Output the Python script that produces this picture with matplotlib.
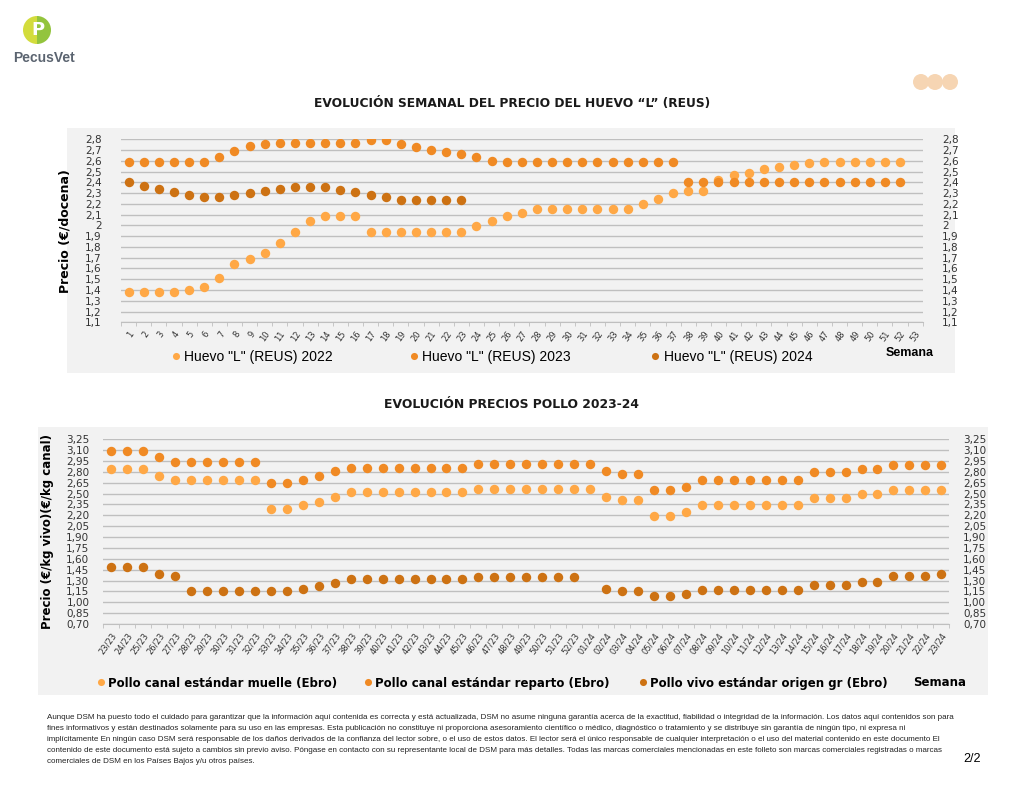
import numpy as np
import matplotlib.pyplot as plt
from matplotlib.patches import Rectangle, Circle, Wedge

# --- data: huevo "L" (REUS), weekly price €/docena ---
semanas = list(range(1, 54))
huevo_2022 = [1.38, 1.38, 1.38, 1.38, 1.40, 1.43, 1.51, 1.64, 1.69, 1.74,
              1.84, 1.94, 2.04, 2.09, 2.09, 2.09, 1.94, 1.94, 1.94, 1.94,
              1.94, 1.94, 1.94, 1.99, 2.04, 2.09, 2.12, 2.15, 2.15, 2.15,
              2.15, 2.15, 2.15, 2.15, 2.20, 2.25, 2.30, 2.32, 2.32, 2.42,
              2.47, 2.49, 2.52, 2.54, 2.56, 2.58, 2.59, 2.59, 2.59, 2.59,
              2.59, 2.59]
huevo_2023 = [2.59, 2.59, 2.59, 2.59, 2.59, 2.59, 2.64, 2.69, 2.74, 2.76,
              2.77, 2.77, 2.77, 2.77, 2.77, 2.77, 2.79, 2.79, 2.76, 2.73,
              2.70, 2.68, 2.66, 2.64, 2.60, 2.59, 2.59, 2.59, 2.59, 2.59,
              2.59, 2.59, 2.59, 2.59, 2.59, 2.59, 2.59, 2.40, 2.40, 2.40,
              2.40, 2.40, 2.40, 2.40, 2.40, 2.40, 2.40, 2.40, 2.40, 2.40,
              2.40, 2.40]
huevo_2024 = [2.40, 2.37, 2.34, 2.31, 2.28, 2.26, 2.26, 2.28, 2.30, 2.32,
              2.34, 2.36, 2.36, 2.36, 2.33, 2.31, 2.28, 2.26, 2.24, 2.24,
              2.24, 2.24, 2.24]

# --- data: pollo 2023-24 ---
semanas_pollo = [f"{w}/23" for w in range(23, 53)] + [f"{w:02d}/24" for w in range(1, 24)]
pollo_muelle = [2.84, 2.84, 2.84, 2.74, 2.69, 2.69, 2.69, 2.69, 2.69, 2.69,
                2.29, 2.29, 2.34, 2.39, 2.46, 2.52, 2.52, 2.52, 2.52, 2.52,
                2.52, 2.52, 2.52, 2.56, 2.56, 2.56, 2.56, 2.56, 2.56, 2.56,
                2.56, 2.46, 2.41, 2.41, 2.19, 2.19, 2.24, 2.34, 2.34, 2.34,
                2.34, 2.34, 2.34, 2.34, 2.44, 2.44, 2.44, 2.49, 2.49, 2.55,
                2.55, 2.55, 2.55]
pollo_reparto = [3.09, 3.09, 3.09, 3.00, 2.94, 2.94, 2.94, 2.94, 2.94, 2.94,
                 2.64, 2.64, 2.69, 2.75, 2.81, 2.86, 2.86, 2.86, 2.86, 2.86,
                 2.86, 2.86, 2.86, 2.91, 2.91, 2.91, 2.91, 2.91, 2.91, 2.91,
                 2.91, 2.81, 2.77, 2.77, 2.55, 2.55, 2.59, 2.69, 2.69, 2.69,
                 2.69, 2.69, 2.69, 2.69, 2.80, 2.80, 2.80, 2.84, 2.84, 2.90,
                 2.90, 2.90, 2.90]
pollo_vivo = [1.49, 1.49, 1.49, 1.39, 1.36, 1.16, 1.16, 1.16, 1.16, 1.16,
              1.16, 1.16, 1.18, 1.22, 1.27, 1.32, 1.32, 1.32, 1.32, 1.32,
              1.32, 1.32, 1.32, 1.35, 1.35, 1.35, 1.35, 1.35, 1.35, 1.35,
              np.nan, 1.18, 1.16, 1.16, 1.09, 1.09, 1.12, 1.17, 1.17, 1.17,
              1.17, 1.17, 1.17, 1.17, 1.24, 1.24, 1.24, 1.28, 1.28, 1.36,
              1.36, 1.36, 1.39]

C_LIGHT = "#FFA846"
C_MID = "#F08A24"
C_DARK = "#CD7213"
GRID = "#BFBFBF"
NARROW = "Liberation Sans"

W, H = 1024, 791
fig = plt.figure(figsize=(10.24, 7.91), dpi=100)


def box(l, t, r, b):
    return [l / W, 1 - b / H, (r - l) / W, (b - t) / H]


# background layer in pixel coords
bg = fig.add_axes([0, 0, 1, 1], zorder=-1)
bg.set_xlim(0, W)
bg.set_ylim(H, 0)
bg.axis("off")
bg.add_patch(Rectangle((67, 128), 888, 245, color="#F2F2F2", lw=0))
bg.add_patch(Rectangle((38, 427), 950, 268, color="#F2F2F2", lw=0))

# logo
bg.add_patch(Wedge((37, 30), 14, 90, 270, color="#D3DC3C", lw=0))
bg.add_patch(Wedge((37, 30), 14, -90, 90, color="#93C43D", lw=0))
bg.text(37.5, 30, "P", color="white", fontsize=13, fontweight="bold",
        ha="center", va="center")
bg.text(44, 58, "PecusVet", color="#5B6470", fontsize=10, fontweight="bold",
        ha="center", va="center", family=NARROW)
for cx in (921, 935, 950):
    bg.add_patch(Circle((cx, 82), 8, color="#F6D5B3", lw=0))

bg.text(512, 103, "EVOLUCIÓN SEMANAL DEL PRECIO DEL HUEVO \u201cL\u201d (REUS)",
        fontsize=8.8, fontweight="bold", ha="center", va="center", color="#1A1A1A")
bg.text(512, 404, "EVOLUCIÓN PRECIOS POLLO 2023-24",
        fontsize=8.9, fontweight="bold", ha="center", va="center", color="#1A1A1A")

footer = ("Aunque DSM ha puesto todo el cuidado para garantizar que la información aquí contenida es correcta y está actualizada, DSM no asume ninguna garantía acerca de la exactitud, fiabilidad o integridad de la información. Los datos aquí contenidos son para\n"
          "fines informativos y están destinados solamente para su uso en las empresas. Esta publicación no constituye ni proporciona asesoramiento científico o médico, diagnóstico o tratamiento y se distribuye sin garantía de ningún tipo, ni expresa ni\n"
          "implícitamente En ningún caso DSM será responsable de los daños derivados de la confianza del lector sobre, o el uso de estos datos. El lector será el único responsable de cualquier interpretación o el uso del material contenido en este documento El\n"
          "contenido de este documento está sujeto a cambios sin previo aviso. Póngase en contacto con su representante local de DSM para más detalles. Todas las marcas comerciales mencionadas en este folleto son marcas comerciales registradas o marcas\n"
          "comerciales de DSM en los Países Bajos y/u otros países.")
foot = bg.text(47, 714, footer, fontsize=6, family=NARROW, ha="left", va="top",
               linespacing=1.7, color="#222222")
# shrink footer so the longest line ends near x=960
fig.canvas.draw()
wpx = foot.get_window_extent(fig.canvas.get_renderer()).width
fs = 6 * 912 / wpx
foot.set_fontsize(fs)
foot.set_linespacing(1.7 * 6 / fs)
bg.text(972, 759, "2/2", fontsize=9, family=NARROW, ha="center", va="center")


def style(ax, labels, yticks, ylim, ytick_fs, xtick_fs, fmt):
    n = len(labels)
    x = np.arange(1, n + 1)
    ax.set_facecolor("none")
    ax.set_xlim(0.5, n + 0.5)
    ax.set_ylim(*ylim)
    for s in ("top", "right", "left"):
        ax.spines[s].set_visible(False)
    ax.spines["bottom"].set_color(GRID)
    ax.set_xticks(x)
    ax.set_xticklabels(labels, rotation=55, ha="right", rotation_mode="anchor",
                       fontsize=xtick_fs, color="#333333")
    ax.set_xticks(np.arange(0.5, n + 1), minor=True)
    ax.tick_params(axis="x", which="major", length=0, pad=5)
    ax.tick_params(axis="x", which="minor", length=3, color=GRID)
    ax.set_yticks(yticks)
    ax.set_yticklabels([fmt(v) for v in yticks])
    ax.tick_params(axis="y", length=0, labelleft=True, labelright=True,
                   labelsize=ytick_fs, labelcolor="#333333")
    ax.grid(axis="y", color=GRID, lw=1)
    ax.set_axisbelow(True)
    return x


def place_legends(handles, xs, y, prop):
    # one figure legend per series so each sits where the reference puts it
    for h, xp in zip(handles, xs):
        fig.legend([h], [h.get_label()], loc="center left",
                   bbox_to_anchor=(xp / W, 1 - y / H), frameon=False,
                   markerscale=0.75, handlelength=0.6, handletextpad=0.3,
                   borderpad=0, borderaxespad=0, prop=prop)


ms = 6.8

# ---- top chart ----
ax1 = fig.add_axes(box(121, 139.3, 922.7, 322.3))
x1 = style(ax1, [str(s) for s in semanas], np.round(np.arange(1.1, 2.81, 0.1), 1),
           (1.1, 2.8), 7.5, 6, lambda v: f"{v:g}".replace(".", ","))
ax1.tick_params(axis="y", pad=14)
h1 = ax1.plot(x1[:len(huevo_2022)], huevo_2022, "o", ms=ms, color=C_LIGHT, mec="none",
              label='Huevo "L" (REUS) 2022')[0]
h2 = ax1.plot(x1[:len(huevo_2023)], huevo_2023, "o", ms=ms, color=C_MID, mec="none",
              label='Huevo "L" (REUS) 2023')[0]
h3 = ax1.plot(x1[:len(huevo_2024)], huevo_2024, "o", ms=ms, color=C_DARK, mec="none",
              label='Huevo "L" (REUS) 2024')[0]
ax1.set_ylabel("Precio (€/docena)", fontsize=9, fontweight="bold", labelpad=10)
place_legends([h1, h2, h3], [172, 410, 651], 357, {"family": NARROW, "size": 10})
bg.text(910, 353, "Semana", fontsize=9, family=NARROW, fontweight="bold",
        ha="center", va="center")

# ---- bottom chart ----
ax2 = fig.add_axes(box(103.3, 439.3, 949.3, 624))
x2 = style(ax2, semanas_pollo, np.round(np.arange(0.70, 3.26, 0.15), 2),
           (0.70, 3.25), 7.5, 6, lambda v: f"{v:.2f}".replace(".", ","))
ax2.tick_params(axis="y", pad=10)
g1 = ax2.plot(x2, pollo_muelle, "o", ms=ms, color=C_LIGHT, mec="none",
              label="Pollo canal estándar muelle (Ebro)")[0]
g2 = ax2.plot(x2, pollo_reparto, "o", ms=ms, color=C_MID, mec="none",
              label="Pollo canal estándar reparto (Ebro)")[0]
g3 = ax2.plot(x2, pollo_vivo, "o", ms=ms, color=C_DARK, mec="none",
              label="Pollo vivo estándar origen gr (Ebro)")[0]
ax2.set_ylabel("Precio (€/kg vivo)(€/kg canal)", fontsize=8.5, fontweight="bold",
               labelpad=9)
place_legends([g1, g2, g3], [97, 364, 639], 683, {"weight": "bold", "size": 8.5})
bg.text(940, 682, "Semana", fontsize=8.5, fontweight="bold",
        ha="center", va="center")

fig.savefig("out.png", dpi=100)
